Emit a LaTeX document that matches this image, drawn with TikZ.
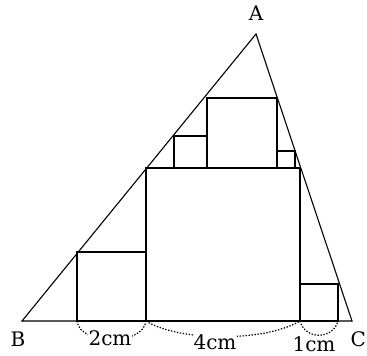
\documentclass[tikz,border=0pt]{standalone}
\usepackage{fontspec}
\setmainfont{DejaVu Serif}
\begin{document}
\begin{tikzpicture}[x=1pt,y=1pt,
  tri/.style={line width=1.1pt},
  sq/.style={line width=2.8pt, line join=miter},
  lbl/.style={font=\fontsize{20}{24}\selectfont, anchor=base, inner sep=1pt},
  dim/.style={line width=1.2pt, dash pattern=on 1.4pt off 1.6pt},
  dimlbl/.style={lbl, fill=white}]
\useasboundingbox (0,0) rectangle (367,356);
\coordinate (A) at (256,322);
\coordinate (B) at (22,35);
\coordinate (C) at (352,35);
\coordinate (p1) at (77,35);
\coordinate (p2) at (146,35);
\coordinate (p3) at (300,35);
\coordinate (p4) at (338,35);
% squares
\draw[sq] (p1) rectangle (146,104);
\draw[sq] (p2) rectangle (300,188);
\draw[sq] (p3) rectangle (338,72);
\draw[sq] (207,188) rectangle (277,258);
\draw[sq] (174,188) rectangle (207,220);
\draw[sq] (277,188) rectangle (295,205);
% triangle
\draw[tri] (A) -- (B) -- (C) -- cycle;
% vertex labels
\node[lbl] (la) at (256,335) {A};
\node[lbl] (lb) at (18,9) {B};
\node[lbl, anchor=base east] (lc) at (367,9) {C};
% dimension arcs
\draw[dim] (p1) .. controls (80,10) and (143,10) .. (p2);
\draw[dim] (p2) .. controls (180,14) and (265,14) .. (p3);
\draw[dim] (p3) .. controls (305,16) and (333,16) .. (p4);
\node[dimlbl] (l2) at (110,10) {2cm};
\node[dimlbl] (l4) at (215,6) {4cm};
\node[lbl] (l1) at (314,4.5) {1cm};
\end{tikzpicture}
\end{document}
